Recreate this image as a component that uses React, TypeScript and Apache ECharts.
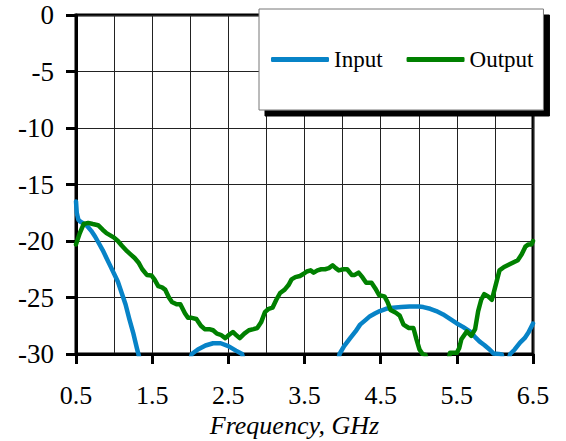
import React, { useEffect, useRef } from "react";
import * as echarts from "echarts";

const seriesNames = ["Input", "Output"];
const xTickStep = 1;
const xGridSubdivisions = 2;

// Input return loss (dB); null = below -30 dB (off chart)
const inputData: [number, number | null][] = [
  [0.5, -16.5], [0.51, -17.5], [0.53, -18.1], [0.56, -18.3], [0.6, -18.45],
  [0.65, -18.7], [0.7, -19.1], [0.75, -19.6], [0.8, -20.2], [0.85, -20.8],
  [0.9, -21.5], [0.95, -22.2], [1.0, -22.9], [1.05, -23.6], [1.1, -24.6],
  [1.15, -25.6], [1.2, -26.9], [1.25, -28.1], [1.3, -29.5], [1.33, -30.3],
  [1.36, -31], [1.5, null],
  [1.98, -31], [2.02, -30.0], [2.1, -29.6], [2.2, -29.25], [2.3, -29.05],
  [2.4, -29.05], [2.5, -29.3], [2.6, -29.7], [2.68, -30.0], [2.72, -31],
  [3.0, null],
  [3.93, -31], [3.96, -30.0], [4.02, -29.3], [4.1, -28.6], [4.17, -28.0],
  [4.23, -27.4], [4.3, -27.0], [4.36, -26.65], [4.43, -26.4], [4.49, -26.2],
  [4.57, -26.0], [4.66, -25.9], [4.77, -25.85], [4.88, -25.8], [5.0, -25.8],
  [5.06, -25.85], [5.15, -26.0], [5.23, -26.2], [5.32, -26.5], [5.41, -26.9],
  [5.5, -27.3], [5.58, -27.6], [5.67, -28.0], [5.74, -28.5], [5.8, -28.9],
  [5.86, -29.2], [5.93, -29.6], [5.98, -29.95], [6.05, -30.0], [6.09, -30.05],
  [6.12, -31], [6.14, null],
  [6.16, -31], [6.2, -30.0], [6.26, -29.6], [6.33, -29.0], [6.39, -28.6],
  [6.44, -28.1], [6.5, -27.3],
];

// Output return loss (dB)
const outputData: [number, number | null][] = [
  [0.5, -20.3], [0.55, -19.3], [0.6, -18.5], [0.66, -18.4], [0.72, -18.5],
  [0.79, -18.6], [0.85, -19.0], [0.9, -19.3], [0.95, -19.5], [1.0, -19.7],
  [1.05, -20.0], [1.1, -20.4], [1.17, -20.9], [1.22, -21.2], [1.27, -21.5],
  [1.32, -21.9], [1.37, -22.5], [1.43, -23.0], [1.49, -23.05], [1.53, -23.4],
  [1.58, -24.0], [1.63, -24.1], [1.67, -24.3], [1.72, -25.0], [1.76, -25.4],
  [1.82, -25.6], [1.87, -25.6], [1.93, -26.4], [1.97, -26.8], [2.02, -26.8],
  [2.08, -26.9], [2.14, -27.5], [2.19, -27.8], [2.25, -27.8], [2.3, -27.9],
  [2.35, -28.2], [2.4, -28.3], [2.46, -28.6], [2.51, -28.3], [2.56, -28.05],
  [2.6, -28.3], [2.65, -28.6], [2.71, -28.2], [2.77, -27.9], [2.83, -27.8],
  [2.88, -27.7], [2.93, -27.2], [2.98, -26.3], [3.03, -26.0], [3.08, -25.9],
  [3.13, -25.2], [3.18, -24.6], [3.24, -24.3], [3.29, -23.9], [3.33, -23.4],
  [3.38, -23.2], [3.44, -23.1], [3.49, -22.9], [3.53, -22.7], [3.58, -22.6],
  [3.62, -22.8], [3.67, -22.6], [3.72, -22.5], [3.77, -22.5], [3.82, -22.4],
  [3.87, -22.15], [3.91, -22.4], [3.95, -22.6], [4.01, -22.5], [4.06, -22.5],
  [4.12, -23.0], [4.16, -23.0], [4.21, -22.8], [4.26, -23.2], [4.31, -23.7],
  [4.38, -23.7], [4.43, -24.2], [4.48, -24.8], [4.55, -24.9], [4.59, -25.4],
  [4.63, -26.1], [4.7, -26.35], [4.75, -26.6], [4.8, -27.4], [4.87, -27.7],
  [4.93, -27.7], [4.97, -28.7], [5.01, -29.6], [5.05, -30.0], [5.09, -30.1],
  [5.12, -31], [5.2, null],
  [5.38, -31], [5.41, -29.9], [5.5, -29.9], [5.53, -29.5], [5.56, -28.7],
  [5.63, -28.0], [5.69, -28.4], [5.74, -27.8], [5.78, -26.2], [5.82, -25.2],
  [5.86, -24.7], [5.91, -24.9], [5.96, -25.2], [6.01, -23.9], [6.06, -22.6],
  [6.12, -22.3], [6.18, -22.1], [6.24, -21.9], [6.3, -21.7], [6.35, -21.2],
  [6.4, -20.5], [6.44, -20.3], [6.48, -20.3], [6.5, -20.0],
];

const seriesColors = ["#0783c7", "#008000"];

export default function App() {
  const ref = useRef<HTMLDivElement>(null);

  useEffect(() => {
    if (!ref.current) return;
    const chart = echarts.init(ref.current, undefined, { renderer: "svg" });
    const font = "'Liberation Serif', 'Times New Roman', serif";
    chart.setOption({
      animation: false,
      backgroundColor: "#fff",
      grid: {
        left: 76,
        right: 33,
        top: 15,
        bottom: 87,
        show: true,
        borderColor: "#000",
        borderWidth: 3,
        backgroundColor: "transparent",
        outerBoundsMode: "none",
        containLabel: false,
      },
      legend: {
        data: seriesNames.map((n) => ({ name: n, icon: "roundRect" })),
        left: 259,
        top: 9,
        orient: "horizontal",
        itemWidth: 58,
        itemHeight: 5,
        itemGap: 24,
        padding: [39, 10, 39, 12],
        backgroundColor: "#fff",
        borderColor: "#777",
        borderWidth: 1,
        borderRadius: 0,
        shadowColor: "#000",
        shadowBlur: 0,
        shadowOffsetX: 6,
        shadowOffsetY: 6,
        textStyle: { fontFamily: font, fontSize: 23, color: "#000" },
        selectedMode: false,
      },
      xAxis: {
        type: "value",
        min: 0.5,
        max: 6.5,
        interval: xTickStep,
        name: "Frequency, GHz",
        nameLocation: "middle",
        nameGap: 60,
        nameMoveOverlap: false,
        nameTextStyle: {
          fontFamily: font,
          fontStyle: "italic",
          fontSize: 26,
          lineHeight: 22,
          color: "#000",
          padding: [0, 20, 0, 0],
        },
        axisLine: { show: true, onZero: false, lineStyle: { color: "#000", width: 3 } },
        axisTick: {
          show: true,
          length: 10,
          inside: false,
          lineStyle: { color: "#000", width: 3 },
        },
        axisLabel: {
          formatter: (v: number) => v.toFixed(1),
          fontFamily: font,
          fontSize: 26,
          lineHeight: 20,
          color: "#000",
          margin: 31,
        },
        splitLine: { show: true, lineStyle: { color: "#222", width: 1 } },
        minorTick: { show: false, splitNumber: xGridSubdivisions },
        minorSplitLine: { show: true, lineStyle: { color: "#222", width: 1 } },
      },
      yAxis: {
        type: "value",
        min: -30,
        max: 0,
        interval: 5,
        axisLine: { show: true, onZero: false, lineStyle: { color: "#000", width: 3 } },
        axisTick: {
          show: true,
          length: 10,
          inside: false,
          lineStyle: { color: "#000", width: 3 },
        },
        axisLabel: {
          fontFamily: font,
          fontSize: 27,
          color: "#000",
          margin: 22,
        },
        splitLine: { show: true, lineStyle: { color: "#222", width: 1 } },
      },
      series: [
        {
          name: seriesNames[0],
          type: "line",
          data: inputData,
          symbol: "none",
          connectNulls: false,
          clip: true,
          color: seriesColors[0],
          lineStyle: { color: seriesColors[0], width: 4.5, cap: "round", join: "round" },
          z: 3,
        },
        {
          name: seriesNames[1],
          type: "line",
          data: outputData,
          symbol: "none",
          connectNulls: false,
          clip: true,
          color: seriesColors[1],
          lineStyle: { color: seriesColors[1], width: 4.5, cap: "round", join: "round" },
          z: 4,
        },
      ],
    });
    return () => chart.dispose();
  }, []);

  return (
    <div
      ref={ref}
      style={{ position: "fixed", left: 0, top: 0, width: 566, height: 441, background: "#fff" }}
    />
  );
}
